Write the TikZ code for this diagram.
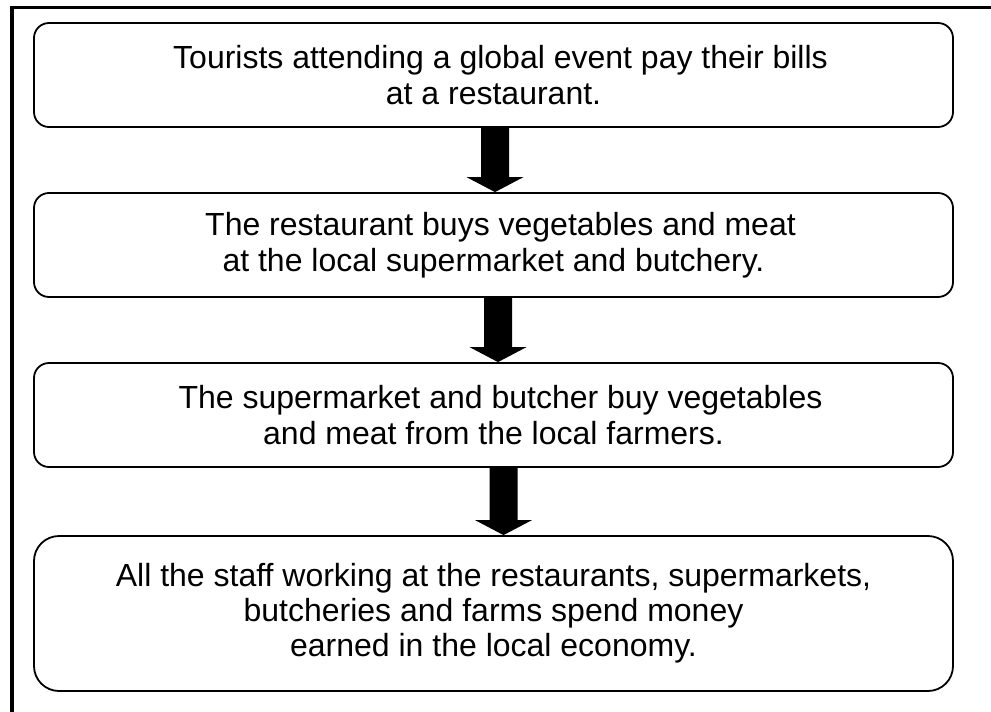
\documentclass[tikz,border=0pt]{standalone}
\usepackage{fontspec}
\setmainfont{Liberation Sans}
\begin{document}
\begin{tikzpicture}[x=1pt,y=-1pt,
  stepbox/.style={draw=black, line width=1.8pt, rounded corners=15pt, minimum width=919pt,
    align=center, inner sep=0pt, font=\fontsize{32}{36}\selectfont},
  frameline/.style={line width=3.6pt, line join=miter}]
\useasboundingbox (0,0) rectangle (991,712);
\draw[frameline] (12,712) -- (12,7.5) -- (991,7.5);
\node[stepbox, minimum height=104pt] (b1) at (493.5,75)
  {\hspace*{14pt}Tourists attending a global event pay their bills\\ at a restaurant.};
\node[stepbox, minimum height=104pt] (b2) at (493.5,245)
  {\hspace*{14pt}The restaurant buys vegetables and meat\\ at the local supermarket and butchery.};
\node[stepbox, minimum height=104pt] (b3) at (493.5,415)
  {\hspace*{14pt}The supermarket and butcher buy vegetables\\ and meat from the local farmers.};
\node[stepbox, minimum height=155pt, rounded corners=25pt, font=\fontsize{32}{35}\selectfont] (b4) at (493.5,613.5)
  {All the staff working at the restaurants, supermarkets,\\ butcheries and farms spend money\\ earned in the local economy.};
\newcommand{\flowarrow}[3]{%
  \fill ([xshift=#3pt-14pt]#1.south) -- ([xshift=#3pt+14pt]#1.south)
    -- ([xshift=#3pt+14pt,yshift=15pt]#2.north) -- ([xshift=#3pt+28.5pt,yshift=15pt]#2.north)
    -- ([xshift=#3pt]#2.north) -- ([xshift=#3pt-28.5pt,yshift=15pt]#2.north)
    -- ([xshift=#3pt-14pt,yshift=15pt]#2.north) -- cycle;}
\flowarrow{b1}{b2}{1.5}
\flowarrow{b2}{b3}{4.5}
\flowarrow{b3}{b4}{10}
\end{tikzpicture}
\end{document}
